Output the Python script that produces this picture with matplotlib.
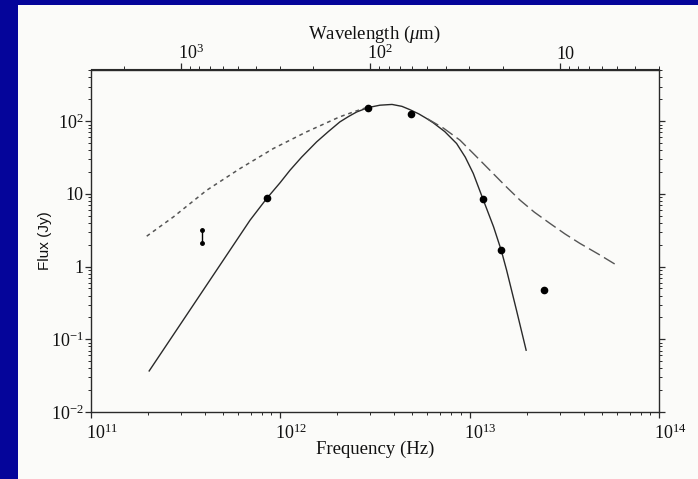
import numpy as np
import matplotlib.pyplot as plt
from matplotlib.patches import Rectangle
from matplotlib.ticker import LogLocator, NullFormatter
from matplotlib.transforms import ScaledTranslation

plt.rcParams['font.family'] = 'Liberation Serif'
plt.rcParams['mathtext.fontset'] = 'custom'
plt.rcParams['mathtext.rm'] = 'Liberation Serif'
plt.rcParams['mathtext.it'] = 'Liberation Serif:italic'

# observed fluxes (Jy)
nu_obs = [8.51e11, 2.92e12, 4.91e12, 1.18e13, 1.47e13, 2.47e13]
flux_obs = [8.65, 154, 125, 8.38, 1.68, 0.473]
flux_err = [0.6, 14, 10, 0.7, 0.1, 0.03]

# range bar at low frequency
bar_nu = 3.86e11
bar_lo = 2.12
bar_hi = 3.17

# solid model curve
fit_nu = [2.04e11, 6.95e11, 8.51e11, 1.0e12, 1.13e12, 1.3e12, 1.56e12, 1.8e12,
          2.07e12, 2.3e12, 2.54e12, 2.92e12, 3.37e12, 3.9e12, 4.4e12, 4.85e12,
          5.4e12, 5.9e12, 6.44e12, 7.4e12, 8.55e12, 9.5e12, 1.047e13, 1.18e13,
          1.34e13, 1.47e13, 1.57e13, 1.77e13, 1.99e13]
fit_flux = [0.0367, 4.35, 8.65, 14.2, 21.2, 32, 51.9, 72,
            97.8, 116, 134, 154, 166, 170, 160, 144,
            126, 110, 95, 72, 49.3, 32, 19.1, 8.38,
            3.52, 1.68, 0.891, 0.251, 0.0708]

# short-dashed curve
short_nu = [1.98e11, 2.74e11, 4.10e11, 6.15e11, 9.23e11, 1.38e12, 2.07e12,
            2.5e12, 2.91e12]
short_flux = [2.62, 4.83, 11.2, 22.3, 42.1, 71.3, 115, 137, 156]

# long-dashed curve
long_nu = [6.0e12, 7.3e12, 8.91e12, 1.07e13, 1.28e13, 1.55e13, 1.85e13,
           2.2e13, 2.66e13, 3.2e13, 3.83e13, 4.8e13, 6.0e13]
long_flux = [108, 80, 54.8, 34, 21.2, 12.8, 8.18, 5.6, 3.92, 2.8, 2.08, 1.48, 1.04]

yticks = [1e-2, 1e-1, 1, 10, 100]
ytick_labels = [r'$10^{-2}$', r'$10^{-1}$', '1', '10', r'$10^{2}$']
xticks = [1e11, 1e12, 1e13, 1e14]
xtick_labels = [r'$10^{11}$', r'$10^{12}$', r'$10^{13}$', r'$10^{14}$']
lam_ticks = [1000, 100, 10]
lam_labels = [r'$10^{3}$', r'$10^{2}$', '10']


def nu_to_lam(nu):
    nu = np.asarray(nu, dtype=float)
    with np.errstate(divide='ignore'):
        return 2.998e14 / nu


fig = plt.figure(figsize=(6.98, 4.79), dpi=100, facecolor='#05059A')
fig.patches.append(Rectangle((18 / 698, 0), 1, 474 / 479, transform=fig.transFigure,
                             facecolor='#FBFBF9', edgecolor='none', zorder=-10))

ax = fig.add_axes([90.5 / 698, 67 / 479, 568.5 / 698, 342.5 / 479])
ax.set_facecolor('none')
ax.set_xscale('log')
ax.set_yscale('log')
ax.set_xlim(1e11, 1e14)
ax.set_ylim(1e-2, 10 ** 2.711)

ink = '#2a2a2a'
ax.plot(fit_nu, fit_flux, '-', color=ink, lw=1.0)
ax.plot(short_nu, short_flux, color='#555555', lw=1.1, dashes=(2.5, 2.5))
ax.plot(long_nu, long_flux, color='#555555', lw=1.0, dashes=(9, 3.5))
ax.errorbar(nu_obs, flux_obs, yerr=flux_err, fmt='o', color='black', ms=4.5,
            elinewidth=1.2, capsize=0)
ax.plot([bar_nu, bar_nu], [bar_lo, bar_hi], '-o', color='black', lw=1.0, ms=2.5)

for side in ax.spines.values():
    side.set_color(ink)
    side.set_linewidth(1.0)

ax.set_xticks(xticks, xtick_labels)
ax.set_yticks(yticks, ytick_labels)
ax.xaxis.set_minor_locator(LogLocator(base=10, subs=np.arange(2, 10)))
ax.yaxis.set_minor_locator(LogLocator(base=10, subs=np.arange(2, 10)))
ax.xaxis.set_minor_formatter(NullFormatter())
ax.yaxis.set_minor_formatter(NullFormatter())
ax.tick_params(which='both', direction='out', color=ink, top=False, right=True,
               labelsize=13, labelcolor='#111111')
ax.tick_params(which='major', length=4, width=0.9)
ax.tick_params(which='minor', length=2.5, width=0.7)
ax.tick_params(axis='x', pad=4)
ax.tick_params(axis='y', pad=1)

ax.set_xlabel('Frequency (Hz)', fontsize=13.5, labelpad=-1, color='#111111')
ax.set_ylabel('Flux (Jy)', fontsize=11, labelpad=-1, color='#111111',
              fontfamily='Liberation Sans')

sec = ax.secondary_xaxis('top', functions=(nu_to_lam, nu_to_lam))
sec.set_xticks(lam_ticks, lam_labels)
sec.xaxis.set_minor_locator(LogLocator(base=10, subs=np.arange(2, 10)))
sec.xaxis.set_minor_formatter(NullFormatter())
sec.tick_params(which='both', direction='out', color=ink, labelsize=13,
                labelcolor='#111111', pad=1)
sec.tick_params(which='major', length=4, width=0.9)
sec.tick_params(which='minor', length=2.5, width=0.7)
sec.spines['top'].set_color(ink)
sec.set_xlabel(r'Wavelength ($\mu$m)', fontsize=13.5, labelpad=3, color='#111111')

fig.canvas.draw()
shift = ScaledTranslation(-5 / 100, 0, fig.dpi_scale_trans)
for lab in ax.get_xticklabels():
    lab.set_horizontalalignment('left')
    lab.set_transform(lab.get_transform() + shift)
for lab in sec.get_xticklabels():
    lab.set_horizontalalignment('left')
    lab.set_transform(lab.get_transform() + ScaledTranslation(-3 / 100, 0, fig.dpi_scale_trans))

fig.savefig('out.png', dpi=100, facecolor=fig.get_facecolor())
